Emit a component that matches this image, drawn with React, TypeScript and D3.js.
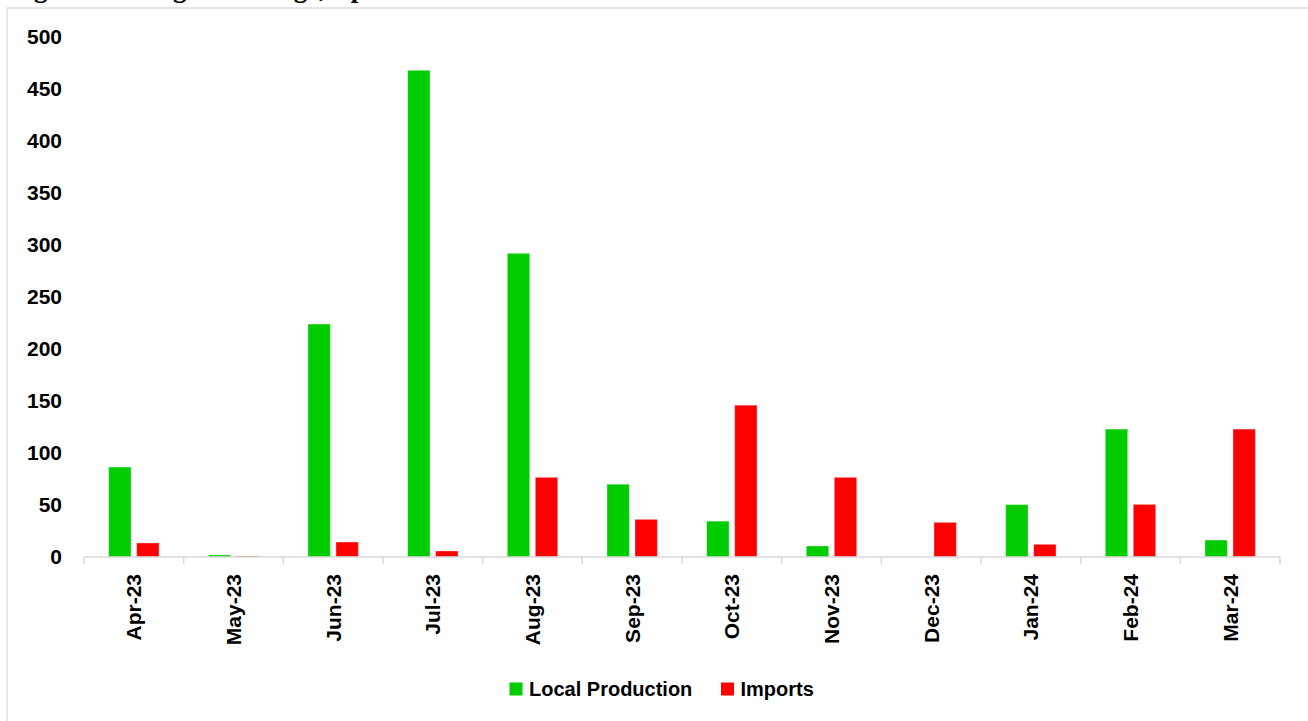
import React from "react";
import * as d3 from "d3";

// Monthly volumes by source
const months = [
  "Apr-23", "May-23", "Jun-23", "Jul-23", "Aug-23", "Sep-23",
  "Oct-23", "Nov-23", "Dec-23", "Jan-24", "Feb-24", "Mar-24",
];
const localProduction = [86.5, 2, 224, 468, 292, 70, 34.5, 10.6, 0, 50.4, 123, 16.3];
const imports = [13.5, 1, 14.4, 5.8, 76.6, 36.2, 146, 76.6, 33.3, 12.2, 50.6, 123];
const seriesNames = ["Local Production", "Imports"];
const seriesColors = ["#00CC00", "#FF0000"];
const yTicks = [0, 50, 100, 150, 200, 250, 300, 350, 400, 450, 500];

const W = 1308;
const H = 721;
const plot = { left: 84, right: 1280, top: 37, bottom: 557 };

export default function App() {
  const x = d3.scaleBand<string>().domain(months).range([plot.left, plot.right]).paddingInner(0).paddingOuter(0);
  const inner = d3
    .scaleBand<string>()
    .domain(seriesNames)
    .range([0, x.bandwidth()])
    .paddingInner(0.2)
    .paddingOuter(0.88);
  const y = d3.scaleLinear().domain([0, 500]).range([plot.bottom, plot.top]);

  const series = [localProduction, imports];
  const boundaries = months.map((m) => x(m) as number).concat([plot.right]);

  const axisFont = "'Liberation Sans', Arial, sans-serif";

  return (
    <svg
      width={W}
      height={H}
      viewBox={`0 0 ${W} ${H}`}
      style={{ position: "absolute", left: 0, top: 0, background: "#fff" }}
    >
      <rect x={0} y={0} width={W} height={H} fill="#fff" />
      {/* page heading, running off the top edge */}
      <text
        x={10}
        y={-3}
        fontFamily="'Liberation Serif', 'Times New Roman', serif"
        fontWeight="bold"
        fontSize={27}
        fill="#000"
      >
        Figure 4: Margarine range, April 2023 – March 2024
      </text>
      {/* chart frame */}
      <rect x={7} y={8} width={W + 10} height={H + 10} fill="#fff" stroke="#d9d9d9" strokeWidth={1.3} />

      {/* y axis labels */}
      {yTicks.map((t) => (
        <text
          key={t}
          x={62}
          y={y(t) - 1}
          textAnchor="end"
          dominantBaseline="central"
          fontFamily={axisFont}
          fontWeight="bold"
          fontSize={21}
          fill="#000"
        >
          {t}
        </text>
      ))}

      {/* bars */}
      {series.map((vals, si) =>
        vals.map((v, i) => {
          const bx = (x(months[i]) as number) + (inner(seriesNames[si]) as number);
          const by = y(v);
          const h = plot.bottom - by;
          if (h <= 0) return null;
          return (
            <rect
              key={`${si}-${i}`}
              x={bx}
              y={by}
              width={inner.bandwidth()}
              height={h}
              fill={seriesColors[si]}
              stroke="#ffffff"
              strokeOpacity={0.35}
              strokeWidth={1}
            />
          );
        })
      )}

      {/* x axis */}
      <line x1={plot.left} x2={plot.right} y1={plot.bottom} y2={plot.bottom} stroke="#d9d9d9" strokeWidth={1.5} />
      {boundaries.map((bx, i) => (
        <line key={i} x1={bx} x2={bx} y1={plot.bottom} y2={plot.bottom + 7} stroke="#d9d9d9" strokeWidth={1.5} />
      ))}
      {months.map((m) => {
        const cx = (x(m) as number) + x.bandwidth() / 2;
        const ty = 574;
        return (
          <text
            key={m}
            transform={`translate(${cx},${ty}) rotate(-90)`}
            textAnchor="end"
            dominantBaseline="central"
            fontFamily={axisFont}
            fontWeight="bold"
            fontSize={21}
            fill="#000"
          >
            {m}
          </text>
        );
      })}

      {/* legend */}
      {[
        { name: seriesNames[0], color: seriesColors[0], x: 509.5 },
        { name: seriesNames[1], color: seriesColors[1], x: 721 },
      ].map((d) => (
        <g key={d.name}>
          <rect x={d.x} y={682.5} width={13} height={13} fill={d.color} />
          <text
            x={d.x + 19.5}
            y={689}
            dominantBaseline="central"
            fontFamily={axisFont}
            fontWeight="bold"
            fontSize={20}
            fill="#000"
          >
            {d.name}
          </text>
        </g>
      ))}
    </svg>
  );
}
